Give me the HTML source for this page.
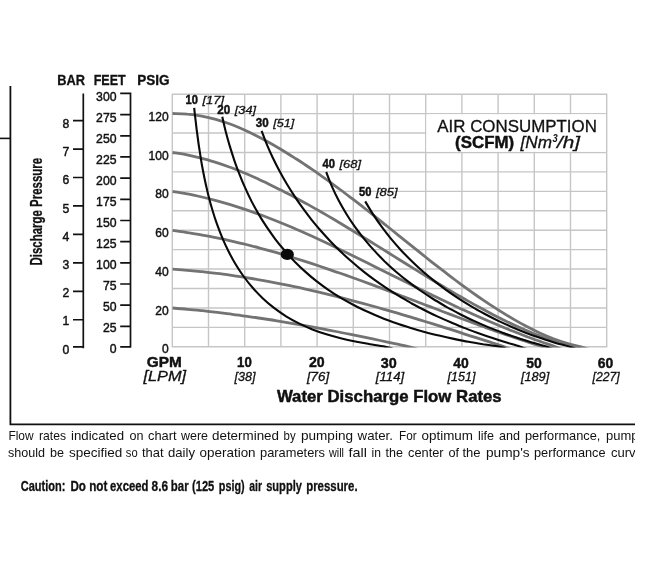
<!DOCTYPE html>
<html lang="en"><head><meta charset="utf-8"><title>Pump Performance Curve</title>
<style>html,body{margin:0;padding:0;background:#fff}body{width:650px;height:563px;overflow:hidden}svg{display:block}text{font-family:"Liberation Sans",Arial,Helvetica,sans-serif;fill:#111}.b{font-weight:bold}.s{stroke:#111;stroke-width:.3px}.s2{stroke:#111;stroke-width:.45px}.i{font-style:italic}</style>
</head><body>
<svg width="650" height="563" viewBox="0 0 650 563">
<rect width="650" height="563" fill="#fff"/>
<path d="M172.30 94.20V346.79M208.50 94.20V346.79M244.70 94.20V346.79M280.90 94.20V346.79M317.10 94.20V346.79M353.30 94.20V346.79M389.50 94.20V346.79M425.70 94.20V346.79M461.90 94.20V346.79M498.10 94.20V346.79M534.30 94.20V346.79M570.50 94.20V346.79M606.70 94.20V346.79M172.30 94.20H606.70M172.30 113.63H606.70M172.30 133.06H606.70M172.30 152.49H606.70M172.30 171.92H606.70M172.30 191.35H606.70M172.30 210.78H606.70M172.30 230.21H606.70M172.30 249.64H606.70M172.30 269.07H606.70M172.30 288.50H606.70M172.30 307.93H606.70M172.30 327.36H606.70M172.30 346.79H606.70" fill="none" stroke="#c6c6c6" stroke-width="1.4" stroke-linecap="square"/>
<rect x="426.40" y="114.33" width="179.60" height="37.46" fill="#fff"/>
<clipPath id="cp"><rect x="171.30" y="93.20" width="436.40" height="254.19"/></clipPath>
<g clip-path="url(#cp)">
<g fill="none" stroke="#737373" stroke-width="2.8">
<path d="M172.6 113.5 C175.0 113.6 182.5 113.6 187.3 114.1 C192.2 114.5 197.0 115.2 201.7 116.1 C206.5 117.0 211.1 118.1 215.8 119.4 C220.4 120.7 224.9 122.2 229.4 123.8 C233.9 125.4 238.4 127.3 242.8 129.2 C247.2 131.1 251.5 133.2 255.8 135.4 C260.1 137.5 264.4 139.8 268.6 142.2 C272.8 144.5 277.0 147.0 281.1 149.5 C285.2 152.0 289.3 154.5 293.4 157.1 C297.4 159.7 301.5 162.3 305.5 165.0 C309.5 167.6 313.4 170.4 317.4 173.1 C321.3 175.8 325.2 178.6 329.1 181.4 C333.0 184.3 336.9 187.1 340.7 190.0 C344.5 192.8 348.4 195.8 352.2 198.7 C356.0 201.6 359.8 204.5 363.6 207.5 C367.4 210.5 371.2 213.5 374.9 216.4 C378.7 219.4 382.5 222.5 386.2 225.5 C390.0 228.5 393.8 231.5 397.5 234.6 C401.3 237.6 405.0 240.6 408.8 243.7 C412.6 246.7 416.3 249.7 420.1 252.7 C423.9 255.7 427.7 258.8 431.5 261.8 C435.3 264.7 439.1 267.7 443.0 270.7 C446.8 273.6 450.6 276.6 454.5 279.5 C458.4 282.4 462.3 285.2 466.2 288.1 C470.1 290.9 474.1 293.7 478.0 296.5 C482.0 299.2 486.0 301.9 490.0 304.6 C494.1 307.2 498.1 309.9 502.2 312.4 C506.3 315.0 510.5 317.5 514.7 319.9 C518.8 322.3 523.1 324.6 527.3 326.8 C531.6 329.1 535.9 331.2 540.3 333.2 C544.6 335.1 549.0 337.0 553.5 338.7 C558.0 340.4 562.5 341.9 567.1 343.3 C571.6 344.7 577.3 345.8 580.9 346.8 C584.5 347.8 587.4 349.0 588.7 349.4"/>
<path d="M172.6 152.5 C175.0 152.9 182.2 153.9 187.0 154.9 C191.7 155.8 196.4 156.9 201.1 158.1 C205.8 159.3 210.4 160.7 215.0 162.1 C219.6 163.5 224.1 165.1 228.6 166.8 C233.2 168.4 237.6 170.2 242.1 172.0 C246.6 173.8 251.0 175.7 255.4 177.7 C259.8 179.7 264.1 181.8 268.5 183.9 C272.8 186.0 277.1 188.1 281.4 190.3 C285.7 192.5 290.0 194.8 294.2 197.0 C298.5 199.3 302.7 201.6 306.9 203.9 C311.1 206.3 315.3 208.7 319.5 211.0 C323.7 213.4 327.8 215.9 332.0 218.3 C336.1 220.8 340.3 223.2 344.4 225.7 C348.5 228.2 352.7 230.7 356.8 233.2 C360.9 235.7 365.0 238.3 369.1 240.8 C373.2 243.3 377.3 245.9 381.4 248.4 C385.5 251.0 389.6 253.5 393.7 256.1 C397.8 258.7 401.9 261.2 406.0 263.8 C410.1 266.3 414.2 268.9 418.3 271.4 C422.4 274.0 426.5 276.5 430.7 279.0 C434.8 281.5 438.9 284.0 443.1 286.5 C447.2 289.0 451.4 291.4 455.6 293.9 C459.8 296.3 463.9 298.7 468.2 301.1 C472.4 303.5 476.6 305.8 480.8 308.1 C485.1 310.4 489.4 312.7 493.6 314.9 C497.9 317.1 502.3 319.3 506.6 321.4 C510.9 323.5 515.3 325.6 519.7 327.5 C524.1 329.5 528.5 331.4 533.0 333.2 C537.4 335.0 541.9 336.7 546.4 338.3 C550.9 340.0 555.5 341.5 560.1 342.9 C564.7 344.3 570.4 345.7 574.0 346.8 C577.6 347.9 580.4 349.0 581.7 349.5"/>
<path d="M172.6 191.3 C175.0 191.8 182.4 193.0 187.3 193.9 C192.1 194.8 197.0 195.9 201.8 197.0 C206.6 198.1 211.4 199.3 216.1 200.6 C220.9 201.9 225.6 203.2 230.3 204.6 C235.0 206.1 239.7 207.6 244.3 209.1 C249.0 210.7 253.6 212.3 258.2 214.0 C262.8 215.7 267.4 217.4 272.0 219.2 C276.6 221.0 281.1 222.8 285.7 224.7 C290.2 226.6 294.7 228.5 299.2 230.5 C303.7 232.5 308.2 234.5 312.7 236.5 C317.2 238.6 321.7 240.7 326.1 242.8 C330.6 244.9 335.1 247.0 339.5 249.2 C344.0 251.3 348.4 253.5 352.8 255.7 C357.3 257.9 361.7 260.1 366.1 262.3 C370.5 264.5 374.9 266.7 379.4 268.9 C383.8 271.1 388.2 273.3 392.6 275.5 C397.0 277.7 401.4 279.9 405.8 282.1 C410.3 284.3 414.7 286.5 419.1 288.7 C423.5 290.9 427.9 293.0 432.4 295.2 C436.8 297.3 441.2 299.5 445.7 301.6 C450.1 303.7 454.6 305.8 459.1 307.9 C463.5 309.9 468.0 312.0 472.5 314.0 C477.0 316.0 481.5 318.0 486.0 320.0 C490.5 321.9 495.0 323.8 499.6 325.7 C504.1 327.6 508.7 329.5 513.3 331.3 C517.8 333.1 522.4 334.9 527.1 336.7 C531.7 338.4 536.3 340.1 541.0 341.7 C545.6 343.4 551.4 345.2 555.0 346.6 C558.6 347.9 561.3 349.2 562.6 349.8"/>
<path d="M172.6 230.4 C175.1 230.8 182.5 231.8 187.5 232.6 C192.4 233.4 197.4 234.2 202.3 235.1 C207.2 236.0 212.1 236.9 217.0 237.9 C221.9 238.9 226.7 240.0 231.6 241.1 C236.4 242.2 241.3 243.3 246.1 244.5 C250.9 245.7 255.7 247.0 260.5 248.3 C265.3 249.5 270.1 250.9 274.9 252.2 C279.7 253.6 284.4 255.0 289.2 256.5 C293.9 257.9 298.7 259.4 303.4 260.9 C308.2 262.4 312.9 263.9 317.6 265.5 C322.3 267.1 327.0 268.7 331.7 270.3 C336.5 271.9 341.1 273.6 345.8 275.2 C350.5 276.9 355.2 278.6 359.9 280.3 C364.6 282.0 369.3 283.7 373.9 285.4 C378.6 287.2 383.3 288.9 387.9 290.7 C392.6 292.4 397.3 294.2 401.9 296.0 C406.6 297.7 411.3 299.5 415.9 301.3 C420.6 303.1 425.2 304.9 429.9 306.6 C434.6 308.4 439.2 310.2 443.9 312.0 C448.6 313.7 453.2 315.5 457.9 317.2 C462.6 319.0 467.2 320.7 471.9 322.4 C476.6 324.2 481.3 325.9 485.9 327.6 C490.6 329.2 495.3 330.9 500.0 332.6 C504.7 334.2 509.4 335.8 514.1 337.4 C518.8 339.0 523.5 340.6 528.3 342.1 C533.0 343.7 538.8 345.4 542.5 346.7 C546.1 347.9 548.8 349.2 550.1 349.7"/>
<path d="M172.6 269.2 C175.1 269.4 182.5 269.9 187.4 270.3 C192.4 270.8 197.3 271.2 202.2 271.7 C207.1 272.3 212.0 272.8 216.9 273.4 C221.8 274.0 226.7 274.7 231.6 275.4 C236.5 276.1 241.4 276.8 246.2 277.6 C251.1 278.4 256.0 279.2 260.8 280.1 C265.7 280.9 270.5 281.8 275.4 282.8 C280.2 283.7 285.1 284.7 289.9 285.7 C294.7 286.7 299.5 287.7 304.4 288.8 C309.2 289.9 314.0 291.0 318.8 292.1 C323.6 293.3 328.4 294.4 333.2 295.6 C338.0 296.8 342.7 298.0 347.5 299.3 C352.3 300.5 357.1 301.8 361.8 303.1 C366.6 304.4 371.4 305.7 376.1 307.0 C380.9 308.4 385.6 309.7 390.4 311.1 C395.1 312.5 399.9 313.9 404.6 315.3 C409.3 316.7 414.1 318.1 418.8 319.6 C423.5 321.0 428.3 322.5 433.0 323.9 C437.7 325.4 442.4 326.9 447.1 328.4 C451.8 329.8 456.5 331.3 461.2 332.8 C465.9 334.4 470.6 335.9 475.3 337.4 C480.0 338.9 484.7 340.4 489.4 341.9 C494.1 343.5 499.9 345.2 503.5 346.5 C507.1 347.8 509.8 349.1 511.1 349.6"/>
<path d="M172.6 308.0 C175.1 308.2 182.6 308.8 187.6 309.3 C192.6 309.7 197.5 310.2 202.5 310.7 C207.5 311.3 212.5 311.8 217.5 312.4 C222.4 313.0 227.4 313.6 232.4 314.3 C237.3 314.9 242.3 315.6 247.2 316.3 C252.2 317.0 257.1 317.7 262.1 318.5 C267.0 319.2 272.0 320.0 276.9 320.8 C281.8 321.6 286.8 322.5 291.7 323.3 C296.6 324.2 301.6 325.0 306.5 325.9 C311.4 326.8 316.3 327.7 321.3 328.6 C326.2 329.6 331.1 330.5 336.0 331.5 C340.9 332.4 345.8 333.4 350.7 334.4 C355.6 335.4 360.5 336.4 365.4 337.4 C370.3 338.4 375.2 339.5 380.1 340.5 C385.0 341.5 389.9 342.6 394.8 343.6 C399.7 344.7 405.7 345.9 409.5 346.8 C413.2 347.7 416.0 348.8 417.3 349.1"/>
</g>
<g fill="none" stroke="#0a0a0a" stroke-width="2.1">
<path d="M194.2 107.9 C194.4 110.3 195.2 117.3 195.8 122.1 C196.3 126.9 196.9 131.7 197.6 136.5 C198.2 141.4 198.9 146.3 199.7 151.2 C200.4 156.1 201.2 161.1 202.1 166.0 C203.0 170.9 204.0 175.9 205.0 180.8 C206.1 185.7 207.2 190.6 208.4 195.5 C209.6 200.3 210.9 205.2 212.4 210.0 C213.8 214.8 215.3 219.5 217.0 224.2 C218.7 228.9 220.5 233.6 222.4 238.1 C224.3 242.6 226.4 247.1 228.6 251.5 C230.8 255.9 233.1 260.1 235.6 264.3 C238.1 268.5 240.8 272.5 243.7 276.5 C246.5 280.4 249.5 284.2 252.7 287.8 C255.9 291.5 259.3 295.0 262.9 298.4 C266.4 301.7 270.2 304.9 274.0 307.9 C277.9 310.9 282.0 313.7 286.1 316.3 C290.3 318.9 294.6 321.2 298.9 323.4 C303.3 325.6 307.8 327.6 312.4 329.4 C317.0 331.2 321.6 332.8 326.4 334.3 C331.1 335.7 335.9 337.0 340.7 338.2 C345.5 339.4 350.4 340.5 355.3 341.5 C360.2 342.5 365.1 343.3 370.0 344.2 C374.9 345.0 380.9 345.9 384.6 346.6 C388.4 347.3 391.2 348.2 392.5 348.5"/>
<path d="M222.3 116.7 C222.8 119.2 224.5 126.5 225.7 131.4 C227.0 136.3 228.3 141.1 229.7 145.9 C231.2 150.7 232.7 155.5 234.3 160.3 C235.9 165.0 237.6 169.7 239.5 174.3 C241.3 179.0 243.2 183.6 245.3 188.1 C247.3 192.7 249.5 197.2 251.7 201.6 C254.0 206.0 256.4 210.4 258.9 214.6 C261.4 218.9 264.1 223.1 266.8 227.2 C269.6 231.3 272.5 235.4 275.4 239.3 C278.4 243.2 281.6 247.1 284.8 250.8 C288.0 254.5 291.3 258.2 294.8 261.7 C298.2 265.2 301.8 268.6 305.5 271.9 C309.1 275.2 312.9 278.4 316.8 281.4 C320.6 284.4 324.6 287.3 328.7 290.1 C332.8 292.9 337.0 295.5 341.2 298.1 C345.5 300.6 349.8 303.0 354.2 305.3 C358.6 307.6 363.1 309.7 367.7 311.8 C372.2 313.9 376.8 315.9 381.5 317.7 C386.1 319.6 390.9 321.3 395.6 323.0 C400.3 324.7 405.1 326.2 410.0 327.7 C414.8 329.2 419.6 330.6 424.5 331.9 C429.4 333.2 434.3 334.5 439.1 335.6 C444.0 336.8 448.9 337.9 453.8 338.9 C458.7 339.9 463.6 340.9 468.5 341.8 C473.4 342.7 478.2 343.5 483.0 344.3 C487.9 345.0 493.7 345.8 497.5 346.4 C501.2 347.1 504.1 347.9 505.4 348.2"/>
<path d="M261.6 130.9 C262.5 133.2 265.0 140.1 266.9 144.6 C268.8 149.1 270.8 153.6 272.9 158.0 C275.0 162.4 277.2 166.7 279.5 171.0 C281.8 175.3 284.2 179.6 286.7 183.8 C289.2 188.0 291.8 192.1 294.5 196.1 C297.1 200.2 299.9 204.2 302.8 208.2 C305.6 212.1 308.6 216.0 311.6 219.8 C314.7 223.6 317.8 227.3 321.0 231.0 C324.2 234.6 327.5 238.2 330.8 241.7 C334.2 245.2 337.6 248.7 341.1 252.0 C344.6 255.4 348.2 258.6 351.9 261.8 C355.5 265.0 359.2 268.1 363.0 271.1 C366.8 274.1 370.7 277.1 374.6 279.9 C378.5 282.7 382.5 285.5 386.5 288.2 C390.5 290.8 394.6 293.4 398.8 295.9 C402.9 298.4 407.1 300.8 411.3 303.2 C415.6 305.5 419.9 307.8 424.2 310.0 C428.5 312.2 432.9 314.3 437.3 316.4 C441.7 318.4 446.2 320.4 450.7 322.3 C455.1 324.3 459.7 326.1 464.2 327.9 C468.7 329.7 473.3 331.4 477.9 333.0 C482.5 334.7 487.1 336.3 491.8 337.8 C496.4 339.4 501.0 340.9 505.7 342.3 C510.4 343.7 516.1 345.2 519.8 346.4 C523.4 347.6 526.2 348.8 527.4 349.3"/>
<path d="M326.2 172.0 C327.2 174.5 329.9 181.9 332.0 186.6 C334.1 191.4 336.3 196.0 338.7 200.6 C341.1 205.2 343.7 209.6 346.4 214.0 C349.0 218.3 351.9 222.6 354.8 226.7 C357.8 230.9 360.9 234.9 364.1 238.9 C367.3 242.8 370.6 246.7 374.1 250.4 C377.5 254.2 381.1 257.8 384.7 261.4 C388.4 264.9 392.2 268.4 396.0 271.7 C399.9 275.0 403.9 278.3 407.9 281.4 C412.0 284.5 416.1 287.6 420.3 290.5 C424.5 293.4 428.8 296.3 433.2 299.0 C437.5 301.7 442.0 304.3 446.4 306.9 C450.9 309.4 455.5 311.8 460.1 314.2 C464.7 316.5 469.3 318.8 474.0 320.9 C478.7 323.1 483.4 325.1 488.2 327.1 C493.0 329.0 497.8 330.9 502.6 332.7 C507.4 334.5 512.3 336.2 517.2 337.8 C522.0 339.4 526.9 340.9 531.8 342.4 C536.7 343.8 542.8 345.3 546.5 346.4 C550.2 347.6 552.9 348.7 554.2 349.2"/>
<path d="M365.2 201.4 C366.5 203.6 370.4 210.2 373.1 214.4 C375.9 218.7 378.8 222.9 381.8 226.9 C384.8 231.0 387.9 235.0 391.1 238.9 C394.3 242.7 397.6 246.5 401.0 250.2 C404.4 253.9 408.0 257.5 411.6 261.0 C415.2 264.5 418.9 268.0 422.6 271.3 C426.4 274.6 430.3 277.8 434.2 280.9 C438.2 284.1 442.2 287.1 446.3 290.1 C450.4 293.0 454.6 295.9 458.8 298.6 C463.0 301.4 467.3 304.0 471.7 306.6 C476.0 309.2 480.4 311.6 484.9 314.0 C489.4 316.4 493.9 318.7 498.4 320.9 C503.0 323.1 507.6 325.2 512.3 327.2 C516.9 329.2 521.6 331.1 526.3 332.9 C531.0 334.7 535.8 336.4 540.6 338.1 C545.3 339.7 550.2 341.2 555.0 342.7 C559.8 344.1 565.8 345.6 569.5 346.7 C573.2 347.8 575.9 349.0 577.2 349.4"/>
</g>
</g>
<ellipse cx="287.3" cy="254.4" rx="6.6" ry="5.6" fill="#0a0a0a"/>
<path d="M10.4 86V424.4H635" fill="none" stroke="#111" stroke-width="1.8"/>
<path d="M0 138.4H10.4" fill="none" stroke="#111" stroke-width="1.6"/>
<path d="M83.3 93.5V348.2M73.0 346.90H83.9M73.0 319.75H83.3M73.0 291.30H83.3M73.0 262.85H83.3M73.0 234.40H83.3M73.0 205.95H83.3M73.0 177.50H83.3M73.0 149.05H83.3M73.0 120.60H83.3" fill="none" stroke="#111" stroke-width="1.7"/>
<path d="M130.5 92.6V347.5M120.2 346.90H131.1M120.2 326.33H130.5M120.2 305.16H130.5M120.2 283.99H130.5M120.2 262.82H130.5M120.2 241.65H130.5M120.2 220.48H130.5M120.2 199.31H130.5M120.2 178.14H130.5M120.2 156.97H130.5M120.2 135.80H130.5M120.2 114.63H130.5M120.2 93.46H131.1" fill="none" stroke="#111" stroke-width="1.7"/>
<g font-size="13.4" class="s2">
<text x="69.3" y="353.6" text-anchor="end" textLength="6.8" lengthAdjust="spacingAndGlyphs">0</text>
<text x="69.3" y="325.4" text-anchor="end" textLength="6.8" lengthAdjust="spacingAndGlyphs">1</text>
<text x="69.3" y="297.2" text-anchor="end" textLength="6.8" lengthAdjust="spacingAndGlyphs">2</text>
<text x="69.3" y="269.0" text-anchor="end" textLength="6.8" lengthAdjust="spacingAndGlyphs">3</text>
<text x="69.3" y="240.8" text-anchor="end" textLength="6.8" lengthAdjust="spacingAndGlyphs">4</text>
<text x="69.3" y="212.6" text-anchor="end" textLength="6.8" lengthAdjust="spacingAndGlyphs">5</text>
<text x="69.3" y="184.4" text-anchor="end" textLength="6.8" lengthAdjust="spacingAndGlyphs">6</text>
<text x="69.3" y="156.2" text-anchor="end" textLength="6.8" lengthAdjust="spacingAndGlyphs">7</text>
<text x="69.3" y="128.0" text-anchor="end" textLength="6.8" lengthAdjust="spacingAndGlyphs">8</text>
<text x="116.5" y="353.4" text-anchor="end" textLength="6.8" lengthAdjust="spacingAndGlyphs">0</text>
<text x="116.5" y="332.4" text-anchor="end" textLength="13.6" lengthAdjust="spacingAndGlyphs">25</text>
<text x="116.5" y="311.4" text-anchor="end" textLength="13.6" lengthAdjust="spacingAndGlyphs">50</text>
<text x="116.5" y="290.4" text-anchor="end" textLength="13.6" lengthAdjust="spacingAndGlyphs">75</text>
<text x="116.5" y="269.4" text-anchor="end" textLength="20.4" lengthAdjust="spacingAndGlyphs">100</text>
<text x="116.5" y="248.4" text-anchor="end" textLength="20.4" lengthAdjust="spacingAndGlyphs">125</text>
<text x="116.5" y="227.4" text-anchor="end" textLength="20.4" lengthAdjust="spacingAndGlyphs">150</text>
<text x="116.5" y="206.4" text-anchor="end" textLength="20.4" lengthAdjust="spacingAndGlyphs">175</text>
<text x="116.5" y="185.4" text-anchor="end" textLength="20.4" lengthAdjust="spacingAndGlyphs">200</text>
<text x="116.5" y="164.4" text-anchor="end" textLength="20.4" lengthAdjust="spacingAndGlyphs">225</text>
<text x="116.5" y="143.4" text-anchor="end" textLength="20.4" lengthAdjust="spacingAndGlyphs">250</text>
<text x="116.5" y="122.4" text-anchor="end" textLength="20.4" lengthAdjust="spacingAndGlyphs">275</text>
<text x="116.5" y="101.4" text-anchor="end" textLength="20.4" lengthAdjust="spacingAndGlyphs">300</text>
<text x="168.6" y="353.0" text-anchor="end" textLength="6.7" lengthAdjust="spacingAndGlyphs">0</text>
<text x="168.6" y="314.7" text-anchor="end" textLength="13.4" lengthAdjust="spacingAndGlyphs">20</text>
<text x="168.6" y="275.9" text-anchor="end" textLength="13.4" lengthAdjust="spacingAndGlyphs">40</text>
<text x="168.6" y="237.1" text-anchor="end" textLength="13.4" lengthAdjust="spacingAndGlyphs">60</text>
<text x="168.6" y="198.3" text-anchor="end" textLength="13.4" lengthAdjust="spacingAndGlyphs">80</text>
<text x="168.6" y="159.5" text-anchor="end" textLength="20.1" lengthAdjust="spacingAndGlyphs">100</text>
<text x="168.6" y="120.7" text-anchor="end" textLength="20.1" lengthAdjust="spacingAndGlyphs">120</text>
</g>
<g class="b s" font-size="14.6">
<text x="57.2" y="84.6" textLength="27.8" lengthAdjust="spacingAndGlyphs">BAR</text>
<text x="93.7" y="84.6" textLength="32" lengthAdjust="spacingAndGlyphs">FEET</text>
<text x="137.2" y="84.6" textLength="32.4" lengthAdjust="spacingAndGlyphs">PSIG</text>
</g>
<text class="b s" font-size="16.4" transform="translate(42.3 265.5) rotate(-90)" textLength="107.7" lengthAdjust="spacingAndGlyphs">Discharge Pressure</text>
<text class="b s2" font-size="12" x="185.6" y="103.9" textLength="12.4" lengthAdjust="spacingAndGlyphs">10</text>
<text class="i s" font-size="11.8" x="202.4" y="103.9" textLength="21.8" lengthAdjust="spacingAndGlyphs">[17]</text>
<text class="b s2" font-size="12" x="217.3" y="113.8" textLength="12.9" lengthAdjust="spacingAndGlyphs">20</text>
<text class="i s" font-size="11.8" x="234.8" y="113.8" textLength="21.2" lengthAdjust="spacingAndGlyphs">[34]</text>
<text class="b s2" font-size="12" x="255.8" y="126.5" textLength="12.9" lengthAdjust="spacingAndGlyphs">30</text>
<text class="i s" font-size="11.8" x="273.2" y="126.5" textLength="21.1" lengthAdjust="spacingAndGlyphs">[51]</text>
<text class="b s2" font-size="12" x="322.4" y="168.3" textLength="12.5" lengthAdjust="spacingAndGlyphs">40</text>
<text class="i s" font-size="11.8" x="339.4" y="168.3" textLength="21.6" lengthAdjust="spacingAndGlyphs">[68]</text>
<text class="b s2" font-size="12" x="359.0" y="196.2" textLength="12.4" lengthAdjust="spacingAndGlyphs">50</text>
<text class="i s" font-size="11.8" x="375.9" y="196.2" textLength="21.7" lengthAdjust="spacingAndGlyphs">[85]</text>
<text class="s" font-size="16.8" x="437.3" y="132.1" textLength="159.6" lengthAdjust="spacingAndGlyphs">AIR CONSUMPTION</text>
<text class="b s2" font-size="16.6" x="455.1" y="147.5" textLength="59" lengthAdjust="spacingAndGlyphs">(SCFM)</text>
<text class="i s" font-size="16.6" x="520.6" y="147.5" textLength="31.4" lengthAdjust="spacingAndGlyphs">[Nm</text>
<text class="b i" font-size="10.4" x="552.4" y="142" textLength="5.2" lengthAdjust="spacingAndGlyphs">3</text>
<text class="i s" font-size="16.6" x="557" y="147.5" textLength="23" lengthAdjust="spacingAndGlyphs">/h]</text>
<text class="b s2" font-size="15.2" x="146.7" y="367" textLength="35" lengthAdjust="spacingAndGlyphs">GPM</text>
<text class="i s" font-size="14" x="143.5" y="380.9" textLength="42.6" lengthAdjust="spacingAndGlyphs">[LPM]</text>
<text class="b s2" font-size="14.8" x="237.1" y="367.1" textLength="14.7" lengthAdjust="spacingAndGlyphs">10</text>
<text class="i s" font-size="12" x="234.6" y="380.8" textLength="20.9" lengthAdjust="spacingAndGlyphs">[38]</text>
<text class="b s2" font-size="14.8" x="308.9" y="367.3" textLength="15.7" lengthAdjust="spacingAndGlyphs">20</text>
<text class="i s" font-size="12" x="306.9" y="380.8" textLength="22.2" lengthAdjust="spacingAndGlyphs">[76]</text>
<text class="b s2" font-size="14.8" x="380.8" y="367.5" textLength="16.0" lengthAdjust="spacingAndGlyphs">30</text>
<text class="i s" font-size="12" x="375.8" y="380.8" textLength="28.4" lengthAdjust="spacingAndGlyphs">[114]</text>
<text class="b s2" font-size="14.8" x="453.2" y="367.7" textLength="15.5" lengthAdjust="spacingAndGlyphs">40</text>
<text class="i s" font-size="12" x="447.6" y="380.8" textLength="27.8" lengthAdjust="spacingAndGlyphs">[151]</text>
<text class="b s2" font-size="14.8" x="526.3" y="367.7" textLength="15.5" lengthAdjust="spacingAndGlyphs">50</text>
<text class="i s" font-size="12" x="520.9" y="380.8" textLength="28.3" lengthAdjust="spacingAndGlyphs">[189]</text>
<text class="b s2" font-size="14.8" x="597.8" y="367.7" textLength="15.5" lengthAdjust="spacingAndGlyphs">60</text>
<text class="i s" font-size="12" x="592.6" y="380.8" textLength="27.1" lengthAdjust="spacingAndGlyphs">[227]</text>
<text class="b s2" font-size="16.2" x="276.9" y="402.3" textLength="224.8" lengthAdjust="spacingAndGlyphs">Water Discharge Flow Rates</text>
<text font-size="12.4" y="439.6"><tspan x="8.4" textLength="25.2" lengthAdjust="spacingAndGlyphs">Flow</tspan> <tspan x="39.0" textLength="27.0" lengthAdjust="spacingAndGlyphs">rates</tspan> <tspan x="71.0" textLength="53.0" lengthAdjust="spacingAndGlyphs">indicated</tspan> <tspan x="129.6" textLength="14.0" lengthAdjust="spacingAndGlyphs">on</tspan> <tspan x="148.0" textLength="28.6" lengthAdjust="spacingAndGlyphs">chart</tspan> <tspan x="181.0" textLength="27.0" lengthAdjust="spacingAndGlyphs">were</tspan> <tspan x="212.0" textLength="67.0" lengthAdjust="spacingAndGlyphs">determined</tspan> <tspan x="283.6" textLength="12.0" lengthAdjust="spacingAndGlyphs">by</tspan> <tspan x="301.0" textLength="52.0" lengthAdjust="spacingAndGlyphs">pumping</tspan> <tspan x="357.6" textLength="35.4" lengthAdjust="spacingAndGlyphs">water.</tspan> <tspan x="399.0" textLength="17.6" lengthAdjust="spacingAndGlyphs">For</tspan> <tspan x="421.6" textLength="51.4" lengthAdjust="spacingAndGlyphs">optimum</tspan> <tspan x="478.0" textLength="16.0" lengthAdjust="spacingAndGlyphs">life</tspan> <tspan x="499.0" textLength="21.0" lengthAdjust="spacingAndGlyphs">and</tspan> <tspan x="525.0" textLength="75.4" lengthAdjust="spacingAndGlyphs">performance,</tspan> <tspan x="606.0" textLength="39.0" lengthAdjust="spacingAndGlyphs">pumps</tspan></text>
<text font-size="12.4" y="457"><tspan x="8.0" textLength="37.0" lengthAdjust="spacingAndGlyphs">should</tspan> <tspan x="50.0" textLength="14.0" lengthAdjust="spacingAndGlyphs">be</tspan> <tspan x="69.0" textLength="53.4" lengthAdjust="spacingAndGlyphs">specified</tspan> <tspan x="125.8" textLength="11.8" lengthAdjust="spacingAndGlyphs">so</tspan> <tspan x="142.0" textLength="21.6" lengthAdjust="spacingAndGlyphs">that</tspan> <tspan x="168.0" textLength="27.0" lengthAdjust="spacingAndGlyphs">daily</tspan> <tspan x="199.6" textLength="56.0" lengthAdjust="spacingAndGlyphs">operation</tspan> <tspan x="260.0" textLength="65.0" lengthAdjust="spacingAndGlyphs">parameters</tspan> <tspan x="329.0" textLength="15.0" lengthAdjust="spacingAndGlyphs">will</tspan> <tspan x="348.6" textLength="18.4" lengthAdjust="spacingAndGlyphs">fall</tspan> <tspan x="371.6" textLength="9.4" lengthAdjust="spacingAndGlyphs">in</tspan> <tspan x="385.6" textLength="17.4" lengthAdjust="spacingAndGlyphs">the</tspan> <tspan x="408.0" textLength="35.6" lengthAdjust="spacingAndGlyphs">center</tspan> <tspan x="448.4" textLength="10.6" lengthAdjust="spacingAndGlyphs">of</tspan> <tspan x="462.4" textLength="18.1" lengthAdjust="spacingAndGlyphs">the</tspan> <tspan x="486.0" textLength="43.6" lengthAdjust="spacingAndGlyphs">pump's</tspan> <tspan x="534.0" textLength="71.5" lengthAdjust="spacingAndGlyphs">performance</tspan> <tspan x="611.0" textLength="35.5" lengthAdjust="spacingAndGlyphs">curve.</tspan></text>
<text class="b s" font-size="14.4" y="490.8"><tspan x="20.8" textLength="44.6" lengthAdjust="spacingAndGlyphs">Caution:</tspan> <tspan x="70.4" textLength="15.5" lengthAdjust="spacingAndGlyphs">Do</tspan> <tspan x="89.2" textLength="18.2" lengthAdjust="spacingAndGlyphs">not</tspan> <tspan x="110.1" textLength="38.3" lengthAdjust="spacingAndGlyphs">exceed</tspan> <tspan x="151.6" textLength="16.5" lengthAdjust="spacingAndGlyphs">8.6</tspan> <tspan x="170.8" textLength="17.8" lengthAdjust="spacingAndGlyphs">bar</tspan> <tspan x="192.0" textLength="22.3" lengthAdjust="spacingAndGlyphs">(125</tspan> <tspan x="218.8" textLength="25.8" lengthAdjust="spacingAndGlyphs">psig)</tspan> <tspan x="249.2" textLength="12.8" lengthAdjust="spacingAndGlyphs">air</tspan> <tspan x="266.2" textLength="35.7" lengthAdjust="spacingAndGlyphs">supply</tspan> <tspan x="306.2" textLength="51.4" lengthAdjust="spacingAndGlyphs">pressure.</tspan></text>
<rect x="635" y="0" width="15" height="563" fill="#fff"/>
</svg>
</body></html>
